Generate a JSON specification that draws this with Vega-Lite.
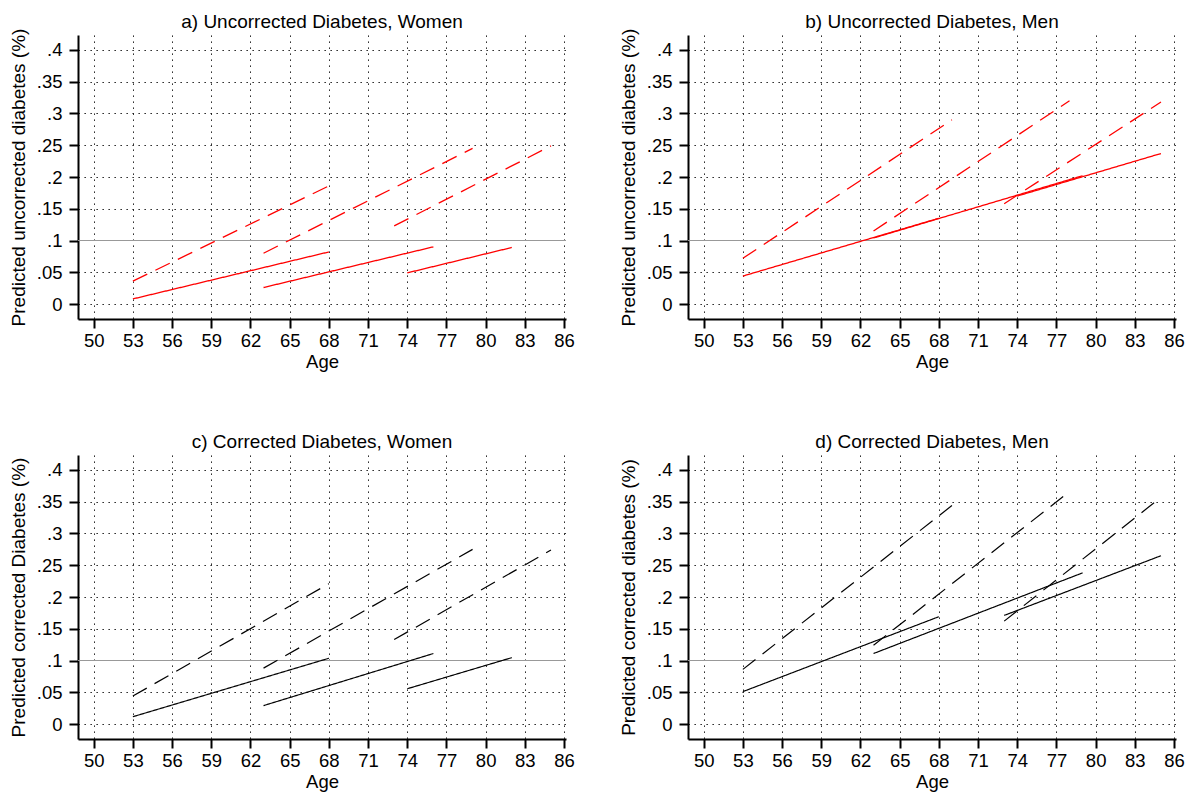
{
  "$schema": "https://vega.github.io/schema/vega-lite/v6.json",
  "background": "white",
  "padding": {"left": 9, "top": 13, "right": 2, "bottom": 2},
  "config": {
    "view": {"stroke": null},
    "font": "Liberation Sans",
    "title": {"fontSize": 19, "fontWeight": "normal", "color": "black", "anchor": "middle", "offset": -4},
    "axis": {
      "domainColor": "black", "domainWidth": 2, "tickColor": "black", "tickWidth": 2, "tickSize": 9,
      "labelFontSize": 18.5, "labelColor": "black", "titleColor": "black", "titleFontWeight": "normal",
      "labelOverlap": false,
      "grid": true, "gridColor": "black", "gridDash": [1.3, 4.7], "gridWidth": 1, "gridOpacity": 1
    },
    "axisX": {"labelPadding": 3, "titlePadding": 3, "titleFontSize": 18.5, "labelAngle": 0},
    "axisY": {"labelPadding": 7, "titlePadding": 8, "titleFontSize": 19}
  },
  "datasets": {
    "curves": [
      {"panel": "a", "line": "solid", "cohort": 1, "age": 53, "value": 0.008},
      {"panel": "a", "line": "solid", "cohort": 1, "age": 68, "value": 0.082},
      {"panel": "a", "line": "solid", "cohort": 2, "age": 63, "value": 0.026},
      {"panel": "a", "line": "solid", "cohort": 2, "age": 76, "value": 0.090},
      {"panel": "a", "line": "solid", "cohort": 3, "age": 74, "value": 0.049},
      {"panel": "a", "line": "solid", "cohort": 3, "age": 82, "value": 0.089},
      {"panel": "a", "line": "dashed", "cohort": 1, "age": 53, "value": 0.036},
      {"panel": "a", "line": "dashed", "cohort": 1, "age": 68, "value": 0.186},
      {"panel": "a", "line": "dashed", "cohort": 2, "age": 63, "value": 0.080},
      {"panel": "a", "line": "dashed", "cohort": 2, "age": 79, "value": 0.245},
      {"panel": "a", "line": "dashed", "cohort": 3, "age": 73, "value": 0.123},
      {"panel": "a", "line": "dashed", "cohort": 3, "age": 85, "value": 0.249},
      {"panel": "b", "line": "solid", "cohort": 1, "age": 53, "value": 0.044},
      {"panel": "b", "line": "solid", "cohort": 1, "age": 68, "value": 0.135},
      {"panel": "b", "line": "solid", "cohort": 2, "age": 63, "value": 0.104},
      {"panel": "b", "line": "solid", "cohort": 2, "age": 79, "value": 0.202},
      {"panel": "b", "line": "solid", "cohort": 3, "age": 74, "value": 0.170},
      {"panel": "b", "line": "solid", "cohort": 3, "age": 85, "value": 0.237},
      {"panel": "b", "line": "dashed", "cohort": 1, "age": 53, "value": 0.072},
      {"panel": "b", "line": "dashed", "cohort": 1, "age": 69, "value": 0.290},
      {"panel": "b", "line": "dashed", "cohort": 2, "age": 63, "value": 0.115},
      {"panel": "b", "line": "dashed", "cohort": 2, "age": 78, "value": 0.320},
      {"panel": "b", "line": "dashed", "cohort": 3, "age": 73, "value": 0.158},
      {"panel": "b", "line": "dashed", "cohort": 3, "age": 85, "value": 0.318},
      {"panel": "c", "line": "solid", "cohort": 1, "age": 53, "value": 0.0115},
      {"panel": "c", "line": "solid", "cohort": 1, "age": 68, "value": 0.1035},
      {"panel": "c", "line": "solid", "cohort": 2, "age": 63, "value": 0.029},
      {"panel": "c", "line": "solid", "cohort": 2, "age": 76, "value": 0.111},
      {"panel": "c", "line": "solid", "cohort": 3, "age": 74, "value": 0.0555},
      {"panel": "c", "line": "solid", "cohort": 3, "age": 82, "value": 0.1045},
      {"panel": "c", "line": "dashed", "cohort": 1, "age": 53, "value": 0.044},
      {"panel": "c", "line": "dashed", "cohort": 1, "age": 68, "value": 0.221},
      {"panel": "c", "line": "dashed", "cohort": 2, "age": 63, "value": 0.088},
      {"panel": "c", "line": "dashed", "cohort": 2, "age": 79, "value": 0.275},
      {"panel": "c", "line": "dashed", "cohort": 3, "age": 73, "value": 0.133},
      {"panel": "c", "line": "dashed", "cohort": 3, "age": 85, "value": 0.274},
      {"panel": "d", "line": "solid", "cohort": 1, "age": 53, "value": 0.051},
      {"panel": "d", "line": "solid", "cohort": 1, "age": 68, "value": 0.169},
      {"panel": "d", "line": "solid", "cohort": 2, "age": 63, "value": 0.111},
      {"panel": "d", "line": "solid", "cohort": 2, "age": 79, "value": 0.238},
      {"panel": "d", "line": "solid", "cohort": 3, "age": 73, "value": 0.171},
      {"panel": "d", "line": "solid", "cohort": 3, "age": 85, "value": 0.265},
      {"panel": "d", "line": "dashed", "cohort": 1, "age": 53, "value": 0.086},
      {"panel": "d", "line": "dashed", "cohort": 1, "age": 69, "value": 0.344},
      {"panel": "d", "line": "dashed", "cohort": 2, "age": 63, "value": 0.124},
      {"panel": "d", "line": "dashed", "cohort": 2, "age": 78, "value": 0.366},
      {"panel": "d", "line": "dashed", "cohort": 3, "age": 73, "value": 0.162},
      {"panel": "d", "line": "dashed", "cohort": 3, "age": 85, "value": 0.357}
    ],
    "reference": [{"age": 50, "value": 0.1}]
  },
  "columns": 2,
  "spacing": {"row": 62, "column": 44},
  "concat": [
    {
      "title": "a) Uncorrected Diabetes, Women",
      "width": 488, "height": 284,
      "encoding": {
        "x": {"field": "age", "type": "quantitative", "title": "Age", "scale": {"domain": [48.8, 86.15], "nice": false, "zero": false}, "axis": {"values": [50, 53, 56, 59, 62, 65, 68, 71, 74, 77, 80, 83, 86]}},
        "y": {"field": "value", "type": "quantitative", "title": "Predicted uncorrected diabetes (%)", "scale": {"domain": [-0.0236, 0.4236], "nice": false, "zero": false}, "axis": {"values": [0, 0.05, 0.1, 0.15, 0.2, 0.25, 0.3, 0.35, 0.4], "gridOpacity": {"condition": {"test": "datum.value == 0.1", "value": 0}, "value": 1}, "labelExpr": "datum.value == 0 ? '0' : substring(format(datum.value, '.2~f'), 1)"}}
      },
      "layer": [
        {
          "data": {"name": "reference"},
          "mark": {"type": "rule", "color": "#999999", "strokeWidth": 1.2},
          "encoding": {"x": null}
        },
        {
          "data": {"name": "curves"},
          "transform": [{"filter": "datum.panel == 'a'"}],
          "mark": {"type": "line", "color": "#ff0000", "strokeWidth": 1.3},
          "encoding": {
            "detail": {"field": "cohort", "type": "nominal"},
            "strokeDash": {"field": "line", "type": "nominal", "scale": {"domain": ["solid", "dashed"], "range": [[1, 0], [16, 9]]}, "legend": null}
          }
        }
      ]
    },
    {
      "title": "b) Uncorrected Diabetes, Men",
      "width": 488, "height": 284,
      "encoding": {
        "x": {"field": "age", "type": "quantitative", "title": "Age", "scale": {"domain": [48.8, 86.15], "nice": false, "zero": false}, "axis": {"values": [50, 53, 56, 59, 62, 65, 68, 71, 74, 77, 80, 83, 86]}},
        "y": {"field": "value", "type": "quantitative", "title": "Predicted uncorrected diabetes (%)", "scale": {"domain": [-0.0236, 0.4236], "nice": false, "zero": false}, "axis": {"values": [0, 0.05, 0.1, 0.15, 0.2, 0.25, 0.3, 0.35, 0.4], "gridOpacity": {"condition": {"test": "datum.value == 0.1", "value": 0}, "value": 1}, "labelExpr": "datum.value == 0 ? '0' : substring(format(datum.value, '.2~f'), 1)"}}
      },
      "layer": [
        {
          "data": {"name": "reference"},
          "mark": {"type": "rule", "color": "#999999", "strokeWidth": 1.2},
          "encoding": {"x": null}
        },
        {
          "data": {"name": "curves"},
          "transform": [{"filter": "datum.panel == 'b'"}],
          "mark": {"type": "line", "color": "#ff0000", "strokeWidth": 1.3},
          "encoding": {
            "detail": {"field": "cohort", "type": "nominal"},
            "strokeDash": {"field": "line", "type": "nominal", "scale": {"domain": ["solid", "dashed"], "range": [[1, 0], [16, 9]]}, "legend": null}
          }
        }
      ]
    },
    {
      "title": {"text": "c) Corrected Diabetes, Women", "offset": 3},
      "width": 488, "height": 284,
      "encoding": {
        "x": {"field": "age", "type": "quantitative", "title": "Age", "scale": {"domain": [48.8, 86.15], "nice": false, "zero": false}, "axis": {"values": [50, 53, 56, 59, 62, 65, 68, 71, 74, 77, 80, 83, 86]}},
        "y": {"field": "value", "type": "quantitative", "title": "Predicted corrected Diabetes (%)", "scale": {"domain": [-0.0236, 0.4236], "nice": false, "zero": false}, "axis": {"values": [0, 0.05, 0.1, 0.15, 0.2, 0.25, 0.3, 0.35, 0.4], "gridOpacity": {"condition": {"test": "datum.value == 0.1", "value": 0}, "value": 1}, "labelExpr": "datum.value == 0 ? '0' : substring(format(datum.value, '.2~f'), 1)"}}
      },
      "layer": [
        {
          "data": {"name": "reference"},
          "mark": {"type": "rule", "color": "#999999", "strokeWidth": 1.2},
          "encoding": {"x": null}
        },
        {
          "data": {"name": "curves"},
          "transform": [{"filter": "datum.panel == 'c'"}],
          "mark": {"type": "line", "color": "#000000", "strokeWidth": 1.2},
          "encoding": {
            "detail": {"field": "cohort", "type": "nominal"},
            "strokeDash": {"field": "line", "type": "nominal", "scale": {"domain": ["solid", "dashed"], "range": [[1, 0], [16, 9]]}, "legend": null}
          }
        }
      ]
    },
    {
      "title": {"text": "d) Corrected Diabetes, Men", "offset": 3},
      "width": 488, "height": 284,
      "encoding": {
        "x": {"field": "age", "type": "quantitative", "title": "Age", "scale": {"domain": [48.8, 86.15], "nice": false, "zero": false}, "axis": {"values": [50, 53, 56, 59, 62, 65, 68, 71, 74, 77, 80, 83, 86]}},
        "y": {"field": "value", "type": "quantitative", "title": "Predicted corrected diabetes (%)", "scale": {"domain": [-0.0236, 0.4236], "nice": false, "zero": false}, "axis": {"values": [0, 0.05, 0.1, 0.15, 0.2, 0.25, 0.3, 0.35, 0.4], "gridOpacity": {"condition": {"test": "datum.value == 0.1", "value": 0}, "value": 1}, "labelExpr": "datum.value == 0 ? '0' : substring(format(datum.value, '.2~f'), 1)"}}
      },
      "layer": [
        {
          "data": {"name": "reference"},
          "mark": {"type": "rule", "color": "#999999", "strokeWidth": 1.2},
          "encoding": {"x": null}
        },
        {
          "data": {"name": "curves"},
          "transform": [{"filter": "datum.panel == 'd'"}],
          "mark": {"type": "line", "color": "#000000", "strokeWidth": 1.2},
          "encoding": {
            "detail": {"field": "cohort", "type": "nominal"},
            "strokeDash": {"field": "line", "type": "nominal", "scale": {"domain": ["solid", "dashed"], "range": [[1, 0], [16, 9]]}, "legend": null}
          }
        }
      ]
    }
  ]
}
